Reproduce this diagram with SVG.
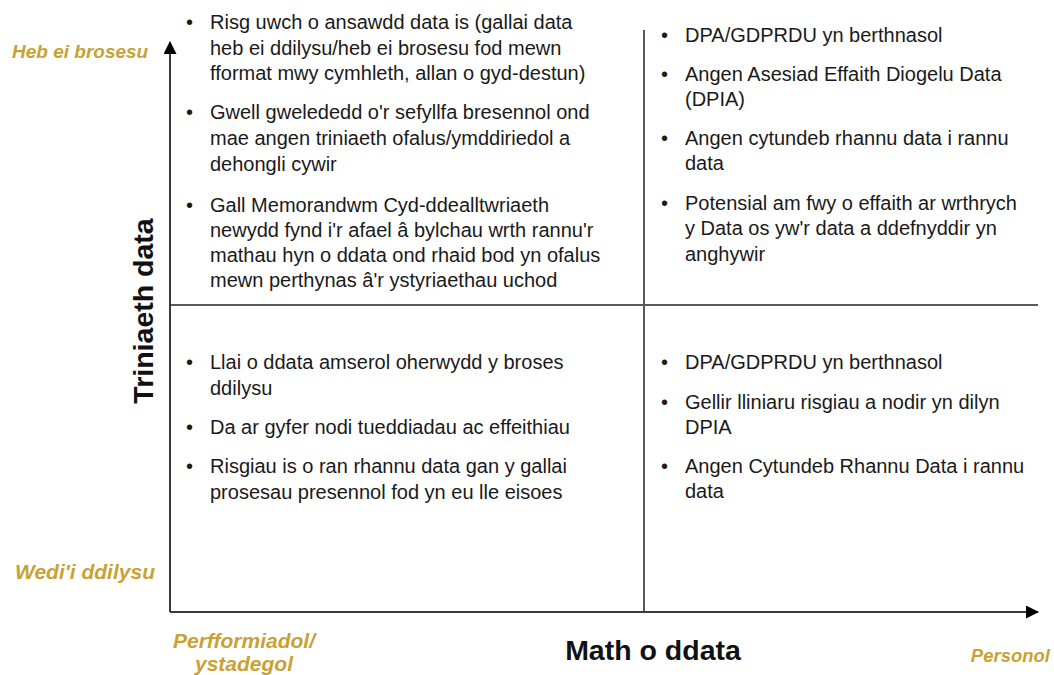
<svg xmlns="http://www.w3.org/2000/svg" width="1054" height="675" viewBox="0 0 1054 675">
<defs>
<style>
.t{font-family:"Liberation Sans",Arial,sans-serif;font-size:20px;fill:#1a1a1a}
.g{font-family:"Liberation Sans",Arial,sans-serif;font-size:19px;font-weight:bold;font-style:italic;fill:#C9A233}
.ax{font-family:"Liberation Sans",Arial,sans-serif;font-size:28.5px;font-weight:bold;fill:#111}
.div{stroke:#5a5a5a;stroke-width:2;fill:none}
.axis{stroke:#3a3a3a;stroke-width:2;fill:none}
</style>
<marker id="arr" markerWidth="13" markerHeight="13" refX="12" refY="6.5" orient="auto" markerUnits="userSpaceOnUse">
<path d="M0,0 L13,6.5 L0,13 Z" fill="#000"/>
</marker>
</defs>
<rect width="1054" height="675" fill="#fff"/>
<g id="connectors">
<line class="div" x1="644" y1="30" x2="644" y2="612"/>
<line class="div" x1="170" y1="305" x2="1038" y2="305"/>
<line class="axis" x1="170" y1="612" x2="170" y2="42" marker-end="url(#arr)"/>
<line class="axis" x1="170" y1="612" x2="1038" y2="612" marker-end="url(#arr)"/>
</g>
<g id="axis-labels">
<text class="g" x="12" y="58">Heb ei brosesu</text>
<text class="g" x="15" y="579" style="font-size:21px">Wedi'i ddilysu</text>
<text class="g" x="244" y="648" text-anchor="middle" style="font-size:21px">Perfformiadol/</text>
<text class="g" x="244" y="671" text-anchor="middle" style="font-size:21px">ystadegol</text>
<text class="g" x="1050" y="662" text-anchor="end" style="font-size:18.5px">Personol</text>
<text class="ax" x="653" y="660" text-anchor="middle">Math o ddata</text>
<text class="ax" transform="translate(153,311) rotate(-90)" text-anchor="middle">Triniaeth data</text>
</g>
<g id="q-top-left">
<text class="t" x="186" y="29">•</text>
<text class="t" x="210" y="29">Risg uwch o ansawdd data is (gallai data</text>
<text class="t" x="210" y="55">heb ei ddilysu/heb ei brosesu fod mewn</text>
<text class="t" x="210" y="80">fformat mwy cymhleth, allan o gyd-destun)</text>
<text class="t" x="186" y="119">•</text>
<text class="t" x="210" y="119">Gwell gwelededd o'r sefyllfa bresennol ond</text>
<text class="t" x="210" y="145">mae angen triniaeth ofalus/ymddiriedol a</text>
<text class="t" x="210" y="171">dehongli cywir</text>
<text class="t" x="186" y="212">•</text>
<text class="t" x="210" y="212">Gall Memorandwm Cyd-ddealltwriaeth</text>
<text class="t" x="210" y="237">newydd fynd i'r afael â bylchau wrth rannu'r</text>
<text class="t" x="210" y="262">mathau hyn o ddata ond rhaid bod yn ofalus</text>
<text class="t" x="210" y="287">mewn perthynas â'r ystyriaethau uchod</text>
</g>
<g id="q-bottom-left">
<text class="t" x="186" y="369">•</text>
<text class="t" x="210" y="369">Llai o ddata amserol oherwydd y broses</text>
<text class="t" x="210" y="395">ddilysu</text>
<text class="t" x="186" y="434">•</text>
<text class="t" x="210" y="434">Da ar gyfer nodi tueddiadau ac effeithiau</text>
<text class="t" x="186" y="473">•</text>
<text class="t" x="210" y="473">Risgiau is o ran rhannu data gan y gallai</text>
<text class="t" x="210" y="499">prosesau presennol fod yn eu lle eisoes</text>
</g>
<g id="q-top-right">
<text class="t" x="661" y="42">•</text>
<text class="t" x="685" y="42">DPA/GDPRDU yn berthnasol</text>
<text class="t" x="661" y="81">•</text>
<text class="t" x="685" y="81">Angen Asesiad Effaith Diogelu Data</text>
<text class="t" x="685" y="106">(DPIA)</text>
<text class="t" x="661" y="145">•</text>
<text class="t" x="685" y="145">Angen cytundeb rhannu data i rannu</text>
<text class="t" x="685" y="170">data</text>
<text class="t" x="661" y="210">•</text>
<text class="t" x="685" y="210">Potensial am fwy o effaith ar wrthrych</text>
<text class="t" x="685" y="235">y Data os yw'r data a ddefnyddir yn</text>
<text class="t" x="685" y="261">anghywir</text>
</g>
<g id="q-bottom-right">
<text class="t" x="661" y="369">•</text>
<text class="t" x="685" y="369">DPA/GDPRDU yn berthnasol</text>
<text class="t" x="661" y="409">•</text>
<text class="t" x="685" y="409">Gellir lliniaru risgiau a nodir yn dilyn</text>
<text class="t" x="685" y="434">DPIA</text>
<text class="t" x="661" y="473">•</text>
<text class="t" x="685" y="473">Angen Cytundeb Rhannu Data i rannu</text>
<text class="t" x="685" y="498">data</text>
</g>
</svg>
